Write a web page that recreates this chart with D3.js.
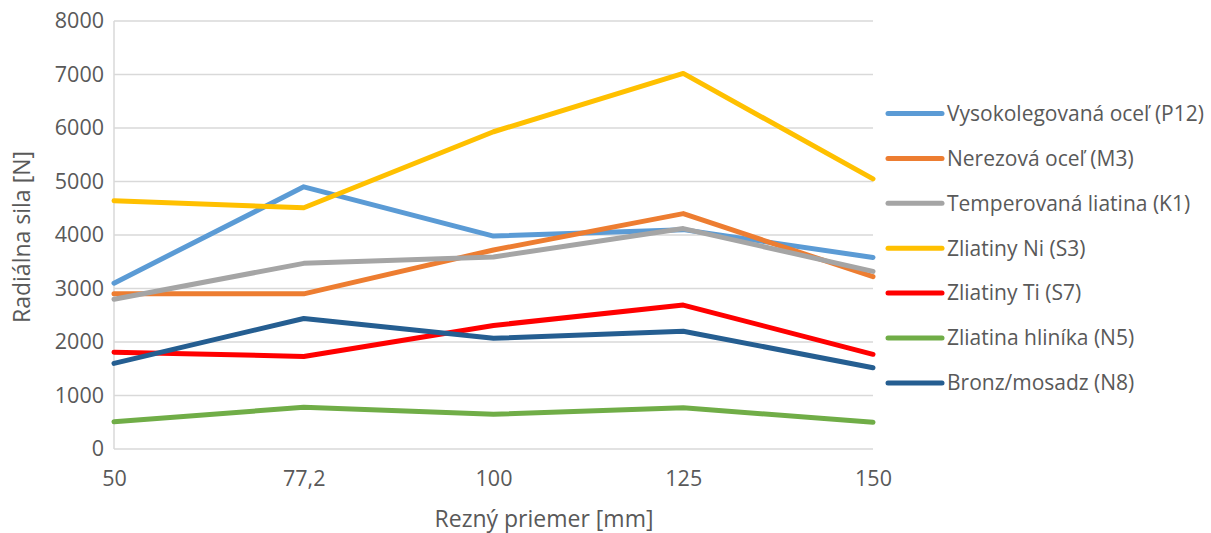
<!DOCTYPE html>
<html><head><meta charset="utf-8">
<script src="https://cdn.jsdelivr.net/npm/d3@7"></script>
<style>body{margin:0;background:#fff}svg{display:block}text{font-family:"Open Sans",sans-serif;fill:#595959}</style>
</head><body><svg id="c" width="1211" height="533"></svg>
<script>
const categories = ["50","77,2","100","125","150"];
const seriesNames = ["Vysokolegovaná oceľ (P12)","Nerezová oceľ (M3)","Temperovaná liatina (K1)","Zliatiny Ni (S3)","Zliatiny Ti (S7)","Zliatina hliníka (N5)","Bronz/mosadz (N8)"];
const p12 = [3100, 4900, 3980, 4100, 3580];
const m3  = [2900, 2900, 3720, 4400, 3220];
const k1  = [2800, 3470, 3590, 4120, 3320];
const s3  = [4640, 4510, 5930, 7020, 5050];
const s7  = [1810, 1730, 2310, 2690, 1770];
const n5  = [510, 780, 650, 770, 500];
const n8  = [1600, 2440, 2070, 2200, 1520];
const yTicks = [0,1000,2000,3000,4000,5000,6000,7000,8000];
const colors = ["#5B9BD5","#ED7D31","#A5A5A5","#FFC000","#FF0000","#70AD47","#255E91"];
const seriesValues = [p12,m3,k1,s3,s7,n5,n8];

const svg = d3.select("#c");
const L=114, R=873, T=21, B=449;
const x = d3.scalePoint().domain(categories).range([L,R]).padding(0);
const y = d3.scaleLinear().domain([0,8000]).range([B,T]);

// gridlines
svg.append("g").selectAll("line").data(yTicks).join("line")
  .attr("x1",L).attr("x2",R).attr("y1",d=>y(d)).attr("y2",d=>y(d))
  .attr("stroke","#d9d9d9").attr("stroke-width",1.5);
svg.append("line").attr("x1",L).attr("x2",L).attr("y1",T).attr("y2",B)
  .attr("stroke","#d9d9d9").attr("stroke-width",1.5);

// y axis labels
const ya = svg.append("g").attr("transform",`translate(${L-10},0)`)
  .call(d3.axisLeft(y).tickValues(yTicks).tickSize(0).tickPadding(0).tickFormat(d3.format("d")));
ya.select(".domain").remove();
ya.selectAll("text").style("font-size","21.5px").attr("fill","#595959").attr("font-family","Open Sans");

// x axis labels
const xa = svg.append("g").attr("transform",`translate(0,${B+22})`)
  .call(d3.axisBottom(x).tickSize(0).tickPadding(0));
xa.select(".domain").remove();
xa.selectAll("text").style("font-size","21.5px").attr("fill","#595959").attr("font-family","Open Sans").attr("dy","0.71em");

// lines
const line = d3.line().x((d,i)=>x(categories[i])).y(d=>y(d));
svg.append("g").selectAll("path").data(seriesValues).join("path")
  .attr("d",line).attr("fill","none").attr("stroke",(d,i)=>colors[i])
  .attr("stroke-width",5).attr("stroke-linecap","round").attr("stroke-linejoin","round");

// axis titles
svg.append("text").attr("transform","translate(29.5,237) rotate(-90)").attr("text-anchor","middle")
  .style("font-size","23px").text("Radiálna sila [N]");
svg.append("text").attr("x",544).attr("y",527).attr("text-anchor","middle")
  .style("font-size","23px").text("Rezný priemer [mm]");

// legend
const lg = svg.append("g");
const ly0 = 113.5, ldy = 44.9;
seriesNames.forEach((n,i)=>{
  const yy = ly0 + i*ldy;
  lg.append("line").attr("x1",888).attr("x2",942).attr("y1",yy).attr("y2",yy)
    .attr("stroke",colors[i]).attr("stroke-width",5).attr("stroke-linecap","round");
  lg.append("text").attr("x",947).attr("y",yy).attr("dy","0.35em").style("font-size","21px").text(n);
});
</script></body></html>
